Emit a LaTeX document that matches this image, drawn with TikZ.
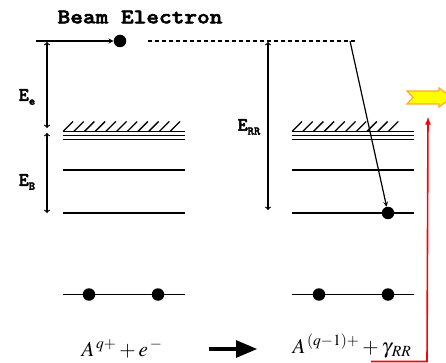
\documentclass[tikz,border=0pt]{standalone}
\usepackage{mathptmx}
\usepackage{fontspec}
\setmainfont{Liberation Serif}
\newfontfamily\courbold{lmmonolt10-bold.otf}[FakeBold=2.5]
\usepackage{tikz}
\usetikzlibrary{shapes,arrows,positioning}
\usepackage{xcolor}
\definecolor{photonyellow}{RGB}{255,255,0}
\definecolor{photonedge}{RGB}{255,170,40}

\begin{document}
\begin{tikzpicture}[
    x=1pt, y=-1pt,
    dot/.style={circle, fill=black, inner sep=0pt, minimum size=12.5pt},
    level/.style={line width=1.5pt},
    lbl/.style={font=\fontsize{19}{19}\selectfont\courbold, inner sep=0pt},
    formula/.style={font=\fontsize{21}{21}\selectfont, inner sep=0pt},
    arrow/.style={->, line width=1.2pt, >=stealth},
    span/.style={<->, line width=1.2pt, >=to}
]
    \useasboundingbox (0,0) rectangle (446,363);
    \clip (0,0) rectangle (446,363);

    % Nodes
    \node[font=\fontsize{21}{21}\selectfont\courbold, inner sep=0pt] (beam) at (140,17) {\scalebox{1.15}[1]{Beam Electron}};
    \node[dot] (free) at (120,41) {};
    \coordinate (start) at (36,41);
    \coordinate (dashend) at (355,41);

    \node[dot] (coreA) at (89,294.5) {};
    \node[dot] (coreB) at (158,294.5) {};
    \node[dot] (coreC) at (319,294.5) {};
    \node[dot] (coreD) at (388,294.5) {};
    \node[dot] (caught) at (388,213) {};

    \node[lbl] (ee) at (27,97) {E\raisebox{-4pt}{\fontsize{12}{12}\selectfont e}};
    \node[lbl] (eb) at (27,182) {E\raisebox{-4pt}{\fontsize{12}{12}\selectfont B}};
    \node[lbl] (err) at (249,127) {E\raisebox{-4pt}{\fontsize{12}{12}\selectfont RR}};

    \node[formula] (before) at (122,349) {$A^{\,q+} + e^{\,-}$};
    \node[formula] (after) at (352,346) {$A^{\,(q-1)+} + \gamma_{\,RR}$};
    \coordinate (reactA) at (209,349);
    \coordinate (reactB) at (257,349);

    \coordinate (eeTop) at (47,42);
    \coordinate (eeBot) at (47,128);
    \coordinate (ebTop) at (47,133);
    \coordinate (ebBot) at (47,213);
    \coordinate (errTop) at (268,42);
    \coordinate (errBot) at (268,210);

    \coordinate (redEnd) at (371,361.5);
    \coordinate (redCorner) at (427,361.5);
    \coordinate (redTip) at (428,117);

    % Levels
    \foreach \xa/\xb/\n in {63/185/11, 292/414/10} {
        \foreach \y in {131.5,135.5,139.5,170,213,294.5}
            \draw[level] (\xa,\y) -- (\xb,\y);
        \foreach \i in {1,...,\n}
            \draw[line width=1.3pt] ({\xa+(\i-1)*10.7},131.5) -- ++(10,-10);
    }

    % Photon
    \draw[photonedge, fill=photonyellow, line width=1.2pt]
        (407,91) -- (439,91) -- (439,88) -- (452,97.5) -- (439,107) -- (439,104)
        -- (407,104) -- (413,97.5) -- cycle;

    % Arrows
    \draw[arrow] (start) -- (free);
    \draw[dash pattern=on 4pt off 3pt, line width=1.1pt] (free) ++(28,0) -- (dashend);
    \draw[arrow] (dashend) ++(-5,0) -- (caught);
    \draw[span] (eeTop) -- (eeBot);
    \draw[span] (ebTop) -- (ebBot);
    \draw[span] (errTop) -- (errBot);
    \draw[->, line width=4pt, >=triangle 45] (reactA) -- (reactB);
    \draw[->, red, line width=1.6pt, >=latex] (redEnd) -- (redCorner) -- (redTip);
\end{tikzpicture}
\end{document}
